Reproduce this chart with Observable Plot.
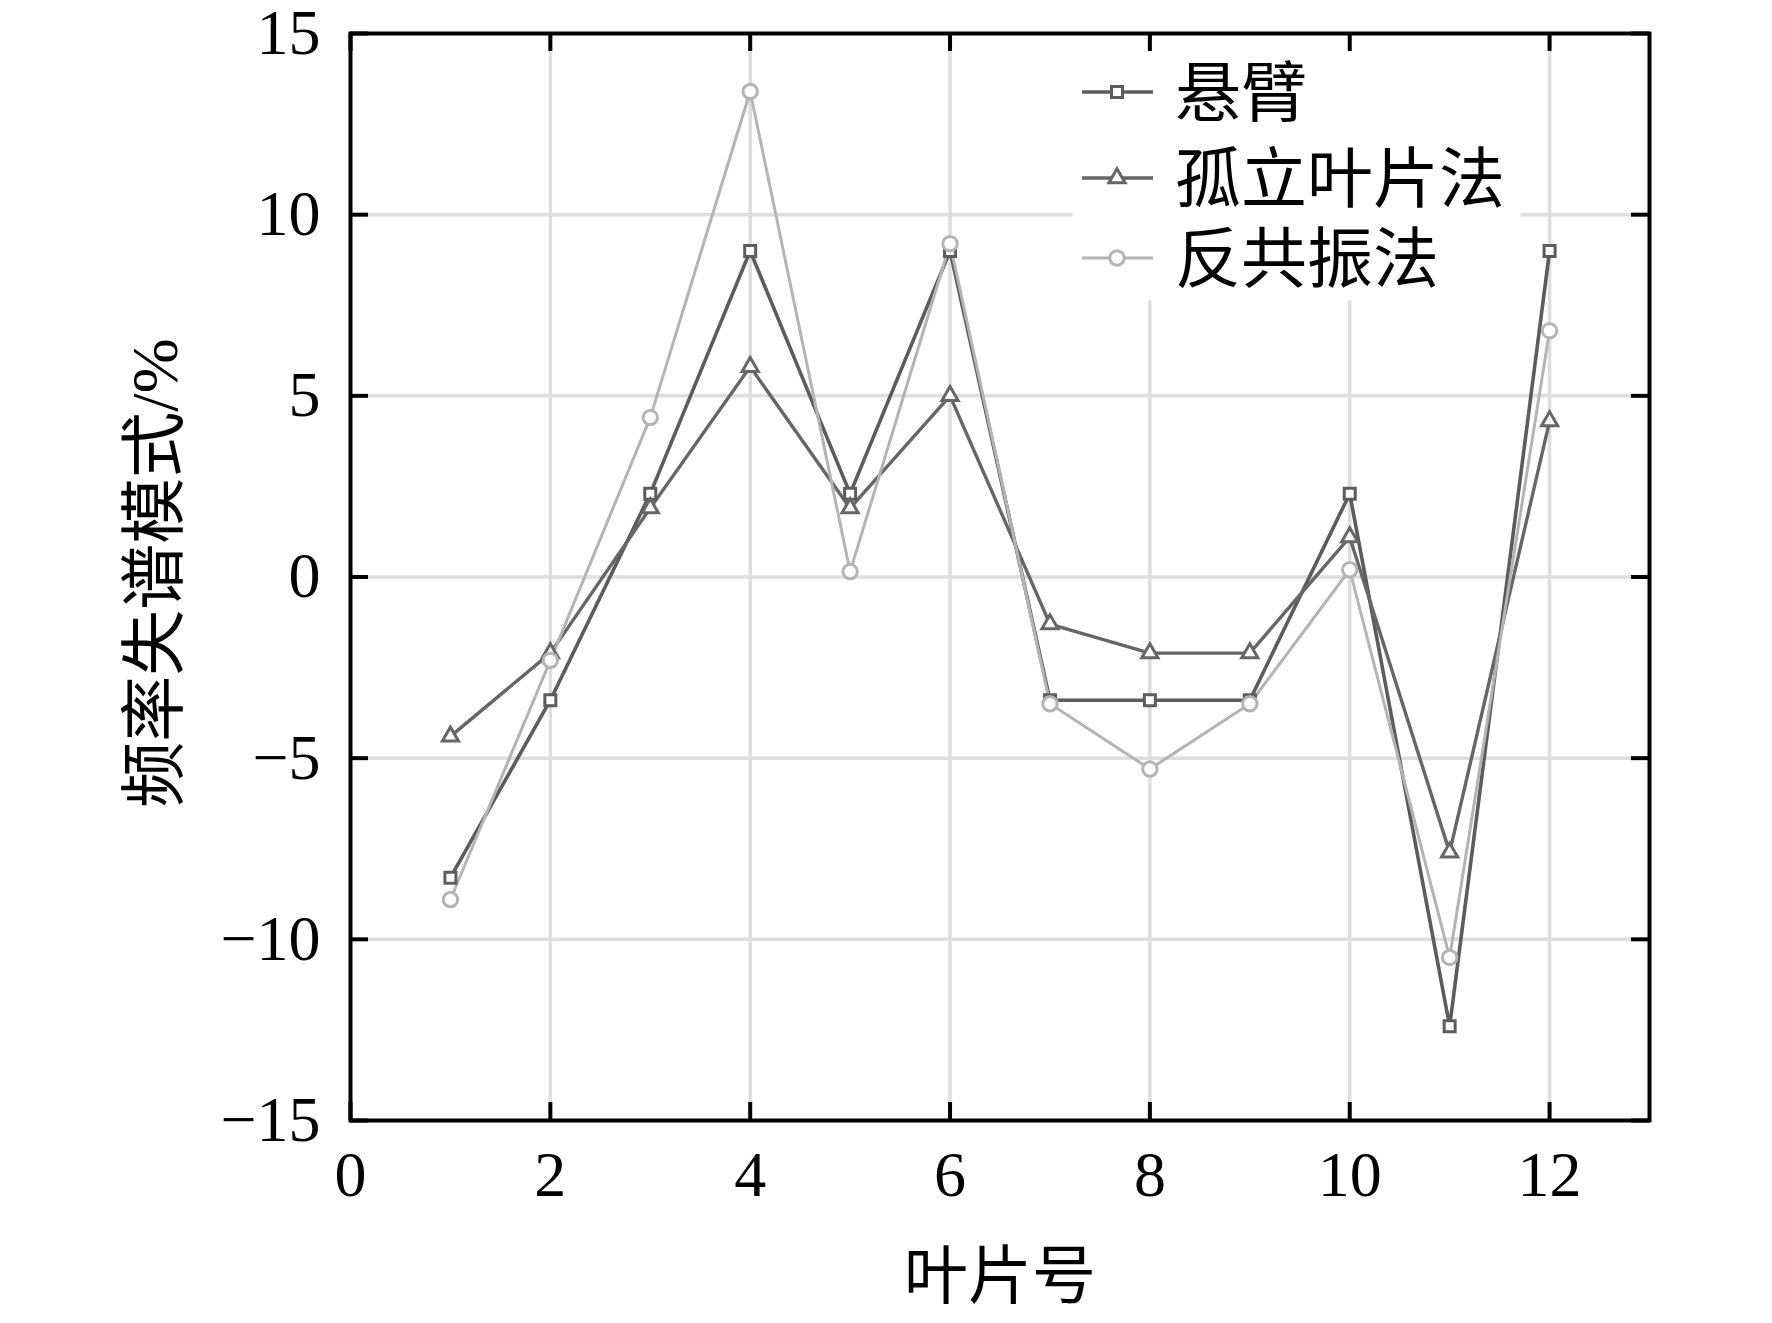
<!DOCTYPE html>
<html>
<head>
<meta charset="utf-8">
<script src="https://cdn.jsdelivr.net/npm/d3@7"></script>
<script src="https://cdn.jsdelivr.net/npm/@observablehq/plot@0.6"></script>
<style>
  html, body { margin: 0; padding: 0; background: #fff; }
  #chart { width: 1772px; height: 1323px; }
</style>
</head>
<body>
<div id="chart"></div>
<script>
// ---- data ----
const blades = [1, 2, 3, 4, 5, 6, 7, 8, 9, 10, 11, 12];
const cantilever = [-8.3, -3.4, 2.3, 9.0, 2.3, 9.0, -3.4, -3.4, -3.4, 2.3, -12.4, 9.0];   // 悬臂
const isolated   = [-4.4, -2.1, 1.9, 5.8, 1.9, 5.0, -1.3, -2.1, -2.1, 1.1, -7.6, 4.3];    // 孤立叶片法
const antiRes    = [-8.9, -2.3, 4.4, 13.4, 0.15, 9.2, -3.5, -5.3, -3.5, 0.2, -10.5, 6.8]; // 反共振法
const seriesNames = ["悬臂", "孤立叶片法", "反共振法"];
const xTicks = [0, 2, 4, 6, 8, 10, 12];
const yTicks = [-15, -10, -5, 0, 5, 10, 15];
const xGrid = [2, 4, 6, 8, 10, 12];
const yGrid = [-10, -5, 0, 5, 10];
const xLabel = "叶片号";
const yLabel = "频率失谱模式/%";

// ---- styling ----
const W = 1772, H = 1323;
const mL = 350, mR = 123, mT = 33, mB = 203;
const fw = W - mL - mR, fh = H - mT - mB;
const tickLen = 18;
const styles = [
  {values: cantilever, color: "#5c5c5c", symbol: "square",   r: 6.2, lw: 3.6},
  {values: isolated,   color: "#666666", symbol: "triangle", r: 6.0, lw: 3.4},
  {values: antiRes,    color: "#b4b4b4", symbol: "circle",   r: 7.2, lw: 3.0}
];
const tables = styles.map(s => blades.map((b, i) => ({x: b, y: s.values[i]})));
const FONT = "'Liberation Serif', 'Times New Roman', 'Noto Sans CJK SC', serif";

const marks = [
  Plot.gridX(xGrid, {stroke: "#dedede", strokeOpacity: 1, strokeWidth: 3.5}),
  Plot.gridY(yGrid, {stroke: "#dedede", strokeOpacity: 1, strokeWidth: 3.5}),
  // legend background (hides grid)
  Plot.frame({fill: "white", stroke: "none", insetLeft: 722, insetRight: 129, insetTop: 4, insetBottom: 820})
];
styles.forEach((s, k) => {
  marks.push(Plot.line(tables[k], {x: "x", y: "y", stroke: s.color, strokeWidth: s.lw}));
});
styles.forEach((s, k) => {
  marks.push(Plot.dot(tables[k], {x: "x", y: "y", symbol: s.symbol, r: s.r, stroke: s.color, strokeWidth: 3, fill: "white"}));
});
marks.push(
  Plot.frame({stroke: "black", strokeWidth: 4}),
  Plot.ruleX(xTicks, {x: d => d, insetTop: fh - tickLen, stroke: "black", strokeWidth: 4}),
  Plot.ruleX(xTicks, {x: d => d, insetBottom: fh - tickLen, stroke: "black", strokeWidth: 4}),
  Plot.ruleY(yTicks, {y: d => d, insetRight: fw - tickLen, stroke: "black", strokeWidth: 4}),
  Plot.ruleY(yTicks, {y: d => d, insetLeft: fw - tickLen, stroke: "black", strokeWidth: 4}),
  Plot.axisX(xTicks, {anchor: "bottom", tickSize: 0, tickPadding: 30, label: null, fontSize: 64, fill: "black"}),
  Plot.axisY(yTicks, {anchor: "left", tickSize: 0, tickPadding: 30, label: null, fontSize: 64, fill: "black"}),
  Plot.text([xLabel], {frameAnchor: "bottom", dy: 157, fontSize: 64, fill: "black", textAnchor: "middle", lineAnchor: "middle"}),
  Plot.text([yLabel], {frameAnchor: "left", dx: -195, dy: -4, rotate: -90, fontSize: 66, fill: "black", textAnchor: "middle", lineAnchor: "middle"})
);

const svg = Plot.plot({
  width: W, height: H,
  marginLeft: mL, marginRight: mR, marginTop: mT, marginBottom: mB,
  x: {domain: [0, 13]},
  y: {domain: [-15, 15]},
  style: {fontFamily: FONT, fontSize: "64px", color: "black", background: "white", overflow: "visible"},
  marks
});

// ---- legend ----
const lg = d3.select(svg).append("g").attr("text-anchor", "start");
const rowY = [92, 178, 258];
const symMap = {square: d3.symbolSquare, triangle: d3.symbolTriangle, circle: d3.symbolCircle};
styles.forEach((s, k) => {
  const y = rowY[k];
  lg.append("line").attr("x1", 1082).attr("x2", 1153).attr("y1", y).attr("y2", y)
    .attr("stroke", s.color).attr("stroke-width", s.lw);
  lg.append("path").attr("d", d3.symbol(symMap[s.symbol], s.r * s.r * Math.PI)())
    .attr("transform", `translate(1117,${y})`)
    .attr("fill", "white").attr("stroke", s.color).attr("stroke-width", 3);
  lg.append("text").attr("x", 1175).attr("y", y).attr("dy", "0.36em")
    .attr("text-anchor", "start")
    .attr("font-size", 66).attr("fill", "black").attr("font-family", FONT)
    .text(seriesNames[k]);
});

document.getElementById("chart").appendChild(svg);
</script>
</body>
</html>
